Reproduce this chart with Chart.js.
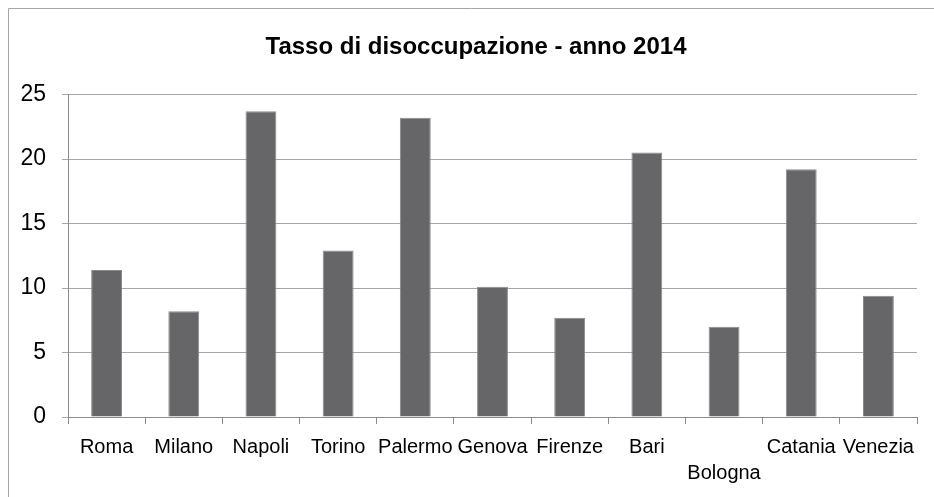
<!DOCTYPE html>
<html>
<head>
<meta charset="utf-8">
<script src="https://cdn.jsdelivr.net/npm/chart.js@4"></script>
<style>
  html, body { margin: 0; padding: 0; background: #fff; }
  #wrap { position: relative; width: 934px; height: 497px; }
</style>
</head>
<body>
<div id="wrap"><canvas id="tassoChart" width="934" height="497"></canvas></div>
<script>
// Dati
const cities = ['Roma', 'Milano', 'Napoli', 'Torino', 'Palermo', 'Genova', 'Firenze', 'Bari', 'Bologna', 'Catania', 'Venezia'];
const rates = [11.4, 8.2, 23.7, 12.9, 23.2, 10.1, 7.7, 20.5, 7.0, 19.2, 9.4];
const yTicks = [0, 5, 10, 15, 20, 25];
const titleText = 'Tasso di disoccupazione - anno 2014';

const sans = "'Liberation Sans', Arial, sans-serif";

// cornice grigia (solo lati sinistro e superiore visibili) e titolo centrato come nell'originale
const framePlugin = {
    id: 'frame',
    beforeDraw(chart) {
        const ctx = chart.ctx;
        ctx.save();
        ctx.strokeStyle = '#a6a6a6';
        ctx.lineWidth = 1;
        ctx.beginPath();
        ctx.moveTo(8.5, 497);
        ctx.lineTo(8.5, 8.5);
        ctx.lineTo(934, 8.5);
        ctx.stroke();
        ctx.restore();
    },
    afterDraw(chart) {
        const ctx = chart.ctx;
        ctx.save();
        ctx.fillStyle = '#000';
        ctx.font = 'bold 24px ' + sans;
        ctx.textAlign = 'center';
        ctx.textBaseline = 'alphabetic';
        ctx.fillText(titleText, 476, 53.5);
        ctx.restore();
    }
};

const ctx = document.getElementById('tassoChart').getContext('2d');
new Chart(ctx, {
    type: 'bar',
    data: {
        labels: cities,
        datasets: [{
            label: 'Tasso di disoccupazione',
            data: rates,
            backgroundColor: '#666668',
            borderColor: '#8a8a8c',
            borderWidth: 1,
            barPercentage: 0.4,
            categoryPercentage: 1.0
        }]
    },
    options: {
        responsive: false,
        animation: false,
        layout: { padding: { top: 94.5, right: 17, bottom: 0, left: 0 } },
        plugins: {
            legend: { display: false },
            tooltip: { enabled: false },
            title: { display: false }
        },
        scales: {
            x: {
                grid: {
                    display: true,
                    drawOnChartArea: false,
                    drawTicks: true,
                    tickLength: 7,
                    color: '#8c8c8c',
                    offset: true
                },
                border: { display: true, color: '#8c8c8c', width: 1 },
                ticks: {
                    color: '#000',
                    font: { family: sans, size: 20, lineHeight: 1.33 },
                    padding: 10,
                    maxRotation: 0,
                    autoSkip: false,
                    callback: function(value, index) {
                        const name = cities[index];
                        return name === 'Bologna' ? ['', name] : name;
                    }
                },
                afterFit(scale) { scale.height = 80; }
            },
            y: {
                min: 0,
                max: 25,
                afterBuildTicks(scale) { scale.ticks = yTicks.map(v => ({ value: v })); },
                grid: { color: '#a6a6a6', tickLength: 6, lineWidth: 1 },
                border: { display: true, color: '#8c8c8c', width: 1 },
                ticks: {
                    color: '#000',
                    font: { family: sans, size: 23 },
                    padding: 16
                },
                afterFit(scale) { scale.width = 68; }
            }
        }
    },
    plugins: [framePlugin]
});
</script>
</body>
</html>
